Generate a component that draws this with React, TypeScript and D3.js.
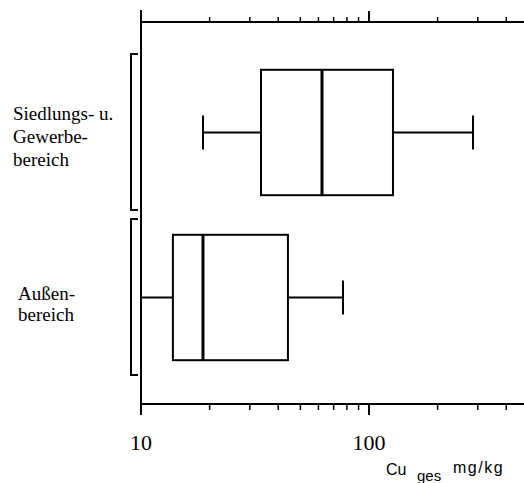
import React from "react";
import * as d3 from "d3";

// Box plot statistics of total copper content (mg/kg), log axis
const categories = ["Siedlungs", "Aussen"];
const categoryLabels = [
  ["Siedlungs- u.", "Gewerbe-", "bereich"],
  ["Außen-", "bereich"],
];
const whiskerLow = [18.7, 10];
const quartile1 = [33.6, 13.8];
const medians = [62.2, 18.7];
const quartile3 = [127.4, 44.1];
const whiskerHigh = [285.8, 76.9];
const majorTicks = [10, 100];
const minorTicks = [20, 30, 40, 50, 60, 70, 80, 90, 200, 300, 400];

const W = 524;
const H = 483;
const SERIF = "Liberation Serif";
const SANS = "Liberation Sans";

export default function App() {
  const x = d3.scaleLog().domain([10, 500]).range([141, 141 + 228 * Math.log10(50)]);
  const y = d3.scaleBand<string>().domain(categories).range([50, 380]).padding(0);

  const topY = 22;
  const botY = 404;
  const leftX = x(10);
  const bw = y.bandwidth();
  const boxH = bw * 0.76;

  return (
    <svg
      width={W}
      height={H}
      style={{ position: "absolute", left: 0, top: 0, display: "block", background: "#fff" }}
    >
      {/* frame axes */}
      <line x1={leftX} x2={W} y1={topY} y2={topY} stroke="#000" strokeWidth={2} />
      <line x1={leftX} x2={W} y1={botY} y2={botY} stroke="#000" strokeWidth={2} />
      <line x1={leftX} x2={leftX} y1={10} y2={415} stroke="#000" strokeWidth={2} />

      {majorTicks.map((t) => (
        <g key={"M" + t}>
          <line x1={x(t)} x2={x(t)} y1={topY} y2={topY - 11} stroke="#000" strokeWidth={2} />
          <line x1={x(t)} x2={x(t)} y1={botY} y2={botY + 11} stroke="#000" strokeWidth={2} />
          <text x={x(t)} y={450} textAnchor="middle" fontFamily={SERIF} fontSize={22}>
            {t}
          </text>
        </g>
      ))}
      {minorTicks.map((t) => (
        <g key={"m" + t}>
          <line x1={x(t)} x2={x(t)} y1={topY} y2={topY - 5} stroke="#000" strokeWidth={1.5} />
          <line x1={x(t)} x2={x(t)} y1={botY} y2={botY + 6} stroke="#000" strokeWidth={1.5} />
        </g>
      ))}

      {/* axis title */}
      <text x={386} y={475} fontFamily={SANS} fontSize={16}>Cu</text>
      <text x={417} y={481} fontFamily={SANS} fontSize={15}>ges</text>
      <text x={453} y={473} fontFamily={SANS} fontSize={16} letterSpacing={1.5}>mg/kg</text>

      {categories.map((c, i) => {
        const b0 = y(c)!;
        const cy = b0 + bw / 2;
        const lines = categoryLabels[i];
        const lh = i === 0 ? 23 : 21;
        const lx = i === 0 ? 13 : 18;
        const base = i === 0 ? 120 : 300;
        return (
          <g key={c}>
            {/* group bracket */}
            <path
              d={`M${leftX - 3},${b0 + 4} H${leftX - 10} V${b0 + bw - 5} H${leftX - 3}`}
              fill="none"
              stroke="#000"
              strokeWidth={2}
            />
            <text fontFamily={SERIF} fontSize={19}>
              {lines.map((l, k) => (
                <tspan key={k} x={lx} y={base + k * lh}>
                  {l}
                </tspan>
              ))}
            </text>
            {/* whiskers */}
            <line x1={x(whiskerLow[i])} x2={x(quartile1[i])} y1={cy} y2={cy} stroke="#000" strokeWidth={2} />
            <line x1={x(quartile3[i])} x2={x(whiskerHigh[i])} y1={cy} y2={cy} stroke="#000" strokeWidth={2} />
            <line x1={x(whiskerLow[i])} x2={x(whiskerLow[i])} y1={cy - 17} y2={cy + 17} stroke="#000" strokeWidth={2} />
            <line x1={x(whiskerHigh[i])} x2={x(whiskerHigh[i])} y1={cy - 17} y2={cy + 17} stroke="#000" strokeWidth={2} />
            {/* box */}
            <rect
              x={x(quartile1[i])}
              y={cy - boxH / 2}
              width={x(quartile3[i]) - x(quartile1[i])}
              height={boxH}
              fill="none"
              stroke="#000"
              strokeWidth={2}
            />
            <line x1={x(medians[i])} x2={x(medians[i])} y1={cy - boxH / 2} y2={cy + boxH / 2} stroke="#000" strokeWidth={3} />
          </g>
        );
      })}
    </svg>
  );
}
